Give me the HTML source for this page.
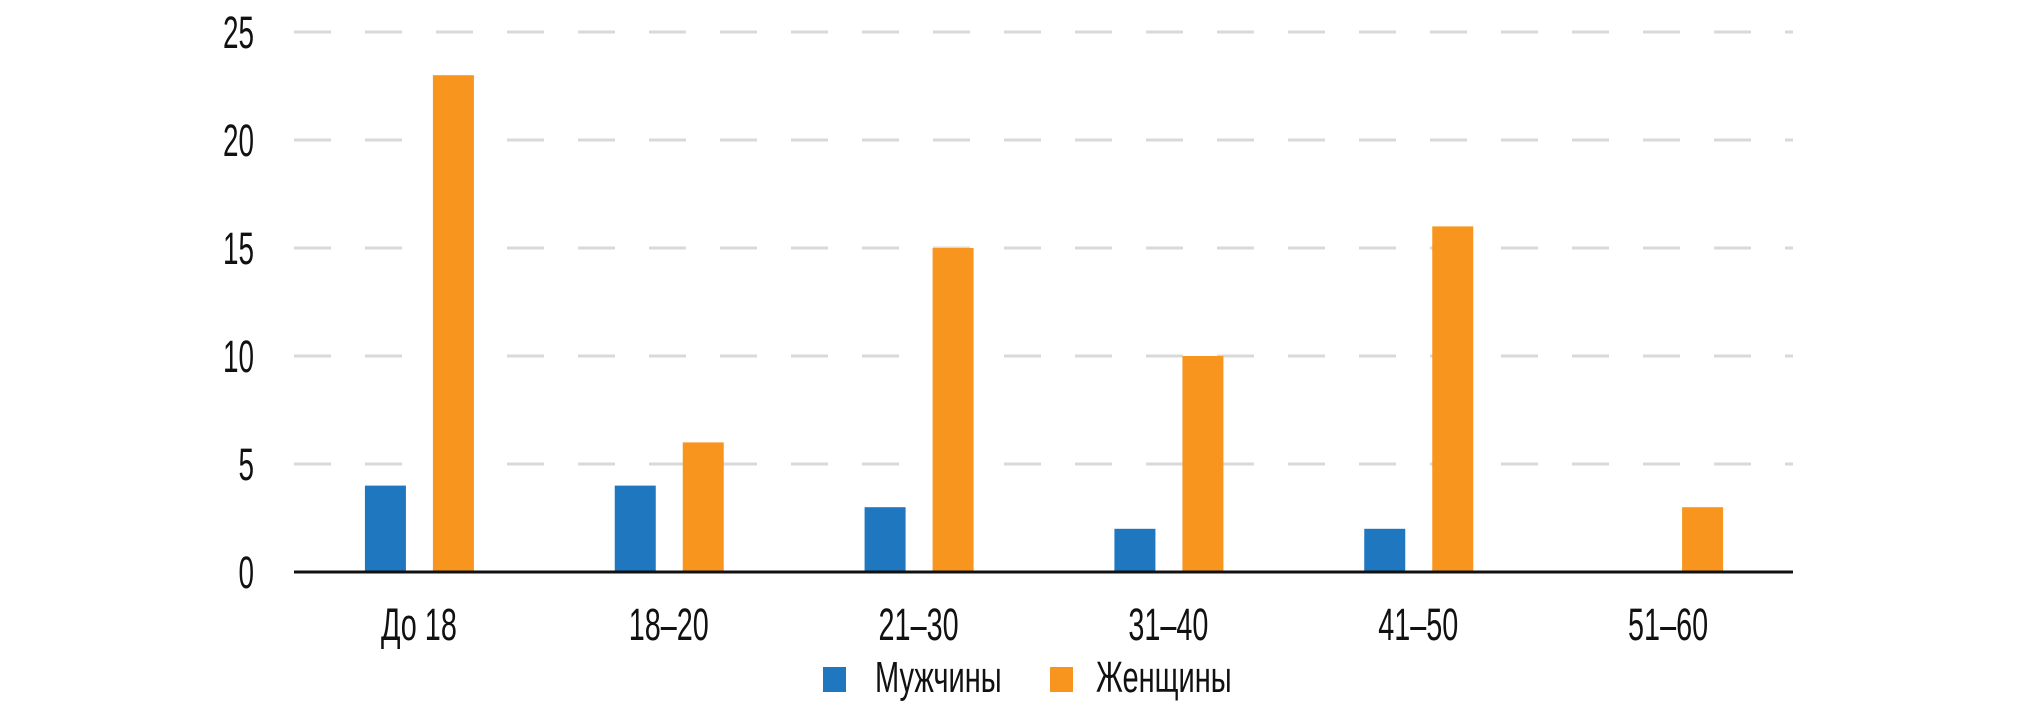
<!DOCTYPE html>
<html><head><meta charset="utf-8"><style>
html,body{margin:0;padding:0;background:#fff;}
svg text{font-family:"Liberation Sans Narrow","Liberation Sans",sans-serif;fill:#111;}
</style></head><body>
<svg id="chart" width="2020" height="717" viewBox="0 0 2020 717" xmlns="http://www.w3.org/2000/svg">
<g id="grid"></g>
<g id="yticks"></g>
<g id="bars"></g>
<line x1="294" x2="1793" y1="572" y2="572" stroke="#111" stroke-width="3"/>
<g id="xlabels"></g>
<g>
  <g>
    <rect x="823" y="667" width="23" height="25" fill="#1f77c0"/>
    <text x="875" y="692" font-size="44" transform="translate(875 0) scale(0.66 1) translate(-875 0)">Мужчины</text>
  </g>
  <g>
    <rect x="1050" y="667" width="23" height="25" fill="#f7951f"/>
    <text x="1096" y="692" font-size="44" transform="translate(1096 0) scale(0.66 1) translate(-1096 0)">Женщины</text>
  </g>
</g>
</svg>
<script>
const categories = ["До 18","18–20","21–30","31–40","41–50","51–60"];
const menValues = [4,4,3,2,2,0];
const womenValues = [23,6,15,10,16,3];
const yTicks = [0,5,10,15,20,25];

const NS="http://www.w3.org/2000/svg";
const left=294,right=1793,y0=572,yTop=32,yMax=25;
const groupW=(right-left)/categories.length;
const barW=41;
function y(v){return y0-(v/yMax)*(y0-yTop);}
function xc(i){return left+groupW*(i+0.5);}
function mk(t,a){const e=document.createElementNS(NS,t);for(const k in a)e.setAttribute(k,a[k]);return e;}

const grid=document.getElementById('grid'),yt=document.getElementById('yticks');
yTicks.forEach(v=>{
  if(v>0){
    const l=mk('line',{x1:left,x2:right,y1:y(v),y2:y(v),stroke:'#d9d9d9','stroke-width':3,'stroke-dasharray':'37 34'});
    
    
    grid.appendChild(l);
  }
  const t=mk('text',{x:254,y:y(v)+16,'font-size':45,'text-anchor':'end',transform:`translate(254 0) scale(0.62 1) translate(-254 0)`});
  t.textContent=v;
  
  
  yt.appendChild(t);
});
const bars=document.getElementById('bars'),xl=document.getElementById('xlabels');
categories.forEach((c,i)=>{
  const cx=xc(i);
  if(menValues[i]>0){
    const r=mk('rect',{x:cx-33.5-barW/2,y:y(menValues[i]),width:barW,height:y0-y(menValues[i]),fill:'#1f77c0'});
    
    
    bars.appendChild(r);
  }
  if(womenValues[i]>0){
    const r=mk('rect',{x:cx+34.5-barW/2,y:y(womenValues[i]),width:barW,height:y0-y(womenValues[i]),fill:'#f7951f'});
    
    
    bars.appendChild(r);
  }
  const t=mk('text',{x:cx,y:640,'font-size':45,'text-anchor':'middle',transform:`translate(${cx} 0) scale(0.64 1) translate(${-cx} 0)`});
  t.textContent=c;
  
  
  xl.appendChild(t);
});
</script>
</body></html>
